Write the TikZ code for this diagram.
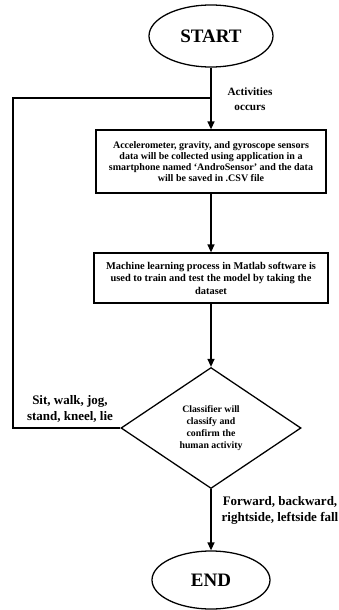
\documentclass[tikz,border=0pt]{standalone}
\usepackage{fontspec}
\setmainfont{Liberation Serif}
\usepackage{tikz}
\usetikzlibrary{positioning, shapes.geometric, arrows.meta}
\tikzset{myFlowLine/.style={line width=0.45mm,color=black}}
\tikzset{myArrow/.style={myFlowLine, -{Triangle[length=8pt,width=7pt]}}}
\tikzset{myTerm/.style={draw, ellipse, line width=0.45mm, inner sep=0pt, font=\bfseries\fontsize{19}{22}\selectfont}}
\tikzset{myBox/.style={draw, rectangle, line width=0.45mm, align=center, font=\bfseries\fontsize{10}{10.8}\selectfont}}
\tikzset{myDecision/.style={draw, diamond, line width=0.45mm, inner sep=0pt, align=center, font=\bfseries\fontsize{9.8}{12}\selectfont}}
\tikzset{myLabel/.style={align=center, font=\bfseries\fontsize{13}{16}\selectfont}}

\begin{document}
\begin{tikzpicture}[x=1pt,y=-1pt]
	\useasboundingbox (0,0) rectangle (339,610);
	
	\node[myTerm, minimum width=124pt, minimum height=62pt] (start) at (211,36) {START};
	\node[myBox, minimum width=230pt, minimum height=63pt] (acq) at (211,161.5) {Accelerometer, gravity, and gyroscope sensors\\ data will be collected using application in a\\ smartphone named `AndroSensor' and the data\\ will be saved in .CSV file};
	\node[myBox, minimum width=234pt, minimum height=50pt, font=\bfseries\fontsize{10.4}{12.4}\selectfont] (train) at (211,278) {Machine learning process in Matlab software is\\ used to train and test the model by taking the\\ dataset};
	\node[myDecision, minimum width=180pt, minimum height=121pt] (cls) at (211,428) {Classifier will\\ classify and\\ confirm the\\ human activity};
	\node[myTerm, minimum width=118pt, minimum height=58pt] (end) at (211,580) {END};
	
	\coordinate (join) at (211,98);
	\coordinate (loopTop) at (13,98);
	\coordinate (loopBot) at (13,428);
	
	\draw[myArrow](start)--(acq);
	\draw[myArrow](acq)--(train);
	\draw[myArrow](train)--(cls);
	\draw[myArrow](cls)--(end);
	\draw[myFlowLine](cls.west)--(loopBot)--(loopTop)--(join);
	
	\node[myLabel, font=\bfseries\fontsize{11.2}{15}\selectfont] (lblAct) at (250,99) {Activities\\ occurs};
	\node[myLabel] (lblAdl) at (70,409) {Sit, walk, jog,\\ stand, kneel, lie};
	\node[myLabel] (lblFall) at (280,510) {Forward, backward,\\ rightside, leftside fall};

\end{tikzpicture}
\end{document}
